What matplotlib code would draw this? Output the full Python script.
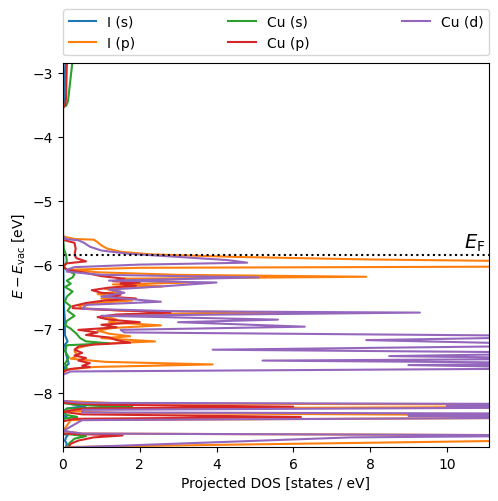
import matplotlib

matplotlib.use("Agg")
import matplotlib.pyplot as plt

# Fermi level and window
e_fermi = -5.85
x_max = 11.1

# I (s)
i_s_energy = [-2.70, -2.86, -3.0, -3.5, -3.56, -5.6, -6.1, -6.6, -6.9, -7.1, -7.2,
              -7.25, -7.4, -7.55, -7.6, -7.66, -8.16, -8.21, -8.25, -8.3, -8.35,
              -8.38, -8.42, -8.64, -8.67, -8.7, -8.75, -8.8, -8.9]
i_s_dos = [0.06, 0.06, 0.05, 0.04, 0.0, 0.0, 0.01, 0.02, 0.05, 0.05, 0.12,
           0.05, 0.08, 0.15, 0.05, 0.0, 0.0, 0.58, 0.1, 0.0, 0.0,
           0.1, 0.0, 0.0, 0.12, 0.08, 0.05, 0.1, 0.05]

# I (p)
i_p_energy = [-2.70, -5.56, -5.60, -5.61, -5.65, -5.70, -5.75, -5.80, -5.84, -5.88,
              -5.92, -5.96, -6.00, -6.02, -6.05, -6.08, -6.12, -6.16, -6.19, -6.22,
              -6.25, -6.28, -6.31, -6.34, -6.38, -6.42, -6.46, -6.50, -6.53, -6.56,
              -6.60, -6.64, -6.68, -6.72, -6.75, -6.78, -6.82, -6.86, -6.90, -6.95,
              -6.99, -7.03, -7.08, -7.12, -7.15, -7.20, -7.24, -7.30, -7.36, -7.42,
              -7.47, -7.52, -7.56, -7.60, -7.64, -7.70, -8.13, -8.17, -8.19, -8.22,
              -8.25, -8.29, -8.32, -8.36, -8.39, -8.43, -8.60, -8.64, -8.67, -8.72,
              -8.75, -8.85, -8.90]
i_p_dos = [0.0, 0.0, 0.3, 0.8, 0.9, 1.0, 1.15, 1.5, 2.3, 4.5,
           8.0, 14.0, 25.0, 18.0, 2.0, 0.2, 0.9, 3.0, 7.9, 1.6,
           2.0, 3.4, 1.3, 2.6, 1.1, 1.5, 0.9, 1.3, 1.0, 1.8,
           0.9, 0.4, 0.5, 1.5, 6.0, 1.8, 1.1, 1.4, 1.2, 2.55,
           1.3, 0.9, 1.2, 1.75, 1.0, 2.4, 0.8, 0.4, 0.3, 0.4,
           0.2, 1.1, 3.9, 0.8, 0.1, 0.0, 0.0, 1.5, 14.0, 14.0,
           0.8, 0.2, 1.5, 14.0, 14.0, 0.2, 0.0, 0.5, 14.0, 14.0,
           12.0, 0.1, 0.05]

# Cu (s)
cu_s_energy = [-2.70, -2.86, -3.45, -3.52, -3.54, -5.50, -5.75, -5.85, -5.95, -6.05,
               -6.10, -6.15, -6.20, -6.25, -6.30, -6.35, -6.42, -6.50, -6.58, -6.65,
               -6.72, -6.80, -6.88, -6.95, -7.00, -7.08, -7.15, -7.20, -7.23, -7.26,
               -7.35, -7.45, -7.55, -7.62, -7.66, -8.16, -8.19, -8.22, -8.25, -8.30,
               -8.35, -8.38, -8.41, -8.64, -8.68, -8.72, -8.80, -8.90]
cu_s_dos = [0.3, 0.24, 0.13, 0.08, 0.0, 0.0, 0.02, 0.08, 0.1, 0.02,
            0.15, 0.3, 0.25, 0.1, 0.2, 0.05, 0.25, 0.1, 0.05, 0.2,
            0.12, 0.3, 0.1, 0.06, 0.2, 0.35, 0.45, 0.6, 1.2, 0.1,
            0.05, 0.15, 0.05, 0.1, 0.0, 0.0, 0.3, 1.8, 0.1, 0.0,
            0.1, 0.37, 0.0, 0.0, 0.6, 0.3, 0.15, 0.1]

# Cu (p)
cu_p_energy = [-2.70, -2.86, -3.40, -3.50, -3.55, -5.55, -5.62, -5.66, -5.75, -5.85,
               -5.90, -5.95, -5.98, -6.02, -6.08, -6.12, -6.18, -6.22, -6.26, -6.28,
               -6.30, -6.33, -6.36, -6.40, -6.44, -6.47, -6.50, -6.53, -6.56, -6.60,
               -6.65, -6.68, -6.70, -6.73, -6.75, -6.78, -6.82, -6.86, -6.90, -6.94,
               -6.98, -7.02, -7.06, -7.10, -7.14, -7.18, -7.22, -7.25, -7.28, -7.33,
               -7.38, -7.42, -7.46, -7.50, -7.54, -7.58, -7.60, -7.63, -7.67, -8.16,
               -8.19, -8.22, -8.25, -8.30, -8.34, -8.38, -8.41, -8.45, -8.64, -8.67,
               -8.70, -8.75, -8.80, -8.90]
cu_p_dos = [0.12, 0.1, 0.08, 0.06, 0.0, 0.0, 0.05, 0.3, 0.33, 0.3,
            0.35, 0.6, 0.1, 0.0, 0.1, 0.5, 1.0, 1.6, 1.3, 2.0,
            1.5, 1.9, 1.2, 0.75, 1.0, 1.5, 1.2, 1.9, 1.1, 0.6,
            0.25, 0.25, 0.8, 2.2, 2.8, 1.4, 0.9, 1.2, 2.0, 1.0,
            1.4, 0.4, 0.9, 0.6, 1.2, 1.4, 1.75, 0.8, 0.4, 0.3,
            0.5, 0.3, 0.6, 0.4, 0.7, 0.5, 0.7, 0.2, 0.0, 0.0,
            1.0, 6.0, 0.5, 0.0, 0.5, 6.2, 0.3, 0.0, 0.0, 1.55,
            0.8, 0.4, 0.2, 0.1]

# Cu (d)
cu_d_energy = [-2.70, -5.55, -5.60, -5.62, -5.66, -5.72, -5.78, -5.83, -5.88, -5.93,
               -5.97, -6.00, -6.04, -6.08, -6.11, -6.16, -6.20, -6.25, -6.28, -6.34,
               -6.39, -6.44, -6.50, -6.58, -6.63, -6.69, -6.73, -6.75, -6.80, -6.86,
               -6.90, -6.97, -7.02, -7.06, -7.12, -7.18, -7.26, -7.33, -7.38, -7.43,
               -7.47, -7.50, -7.54, -7.57, -7.62, -7.67, -7.72, -8.13, -8.16, -8.18,
               -8.21, -8.23, -8.27, -8.31, -8.33, -8.36, -8.39, -8.43, -8.60, -8.64,
               -8.67, -8.70, -8.86, -8.90]
cu_d_dos = [0.0, 0.0, 0.05, 0.4, 0.55, 0.7, 1.0, 1.7, 3.0, 4.3,
            4.8, 2.0, 0.3, 0.1, 0.1, 1.0, 5.1, 1.2, 4.0, 2.6,
            1.2, 1.6, 1.0, 2.55, 0.6, 0.5, 3.0, 9.3, 1.0, 5.6,
            3.0, 6.3, 1.5, 1.6, 14.0, 7.9, 14.0, 3.9, 14.0, 8.5,
            14.0, 5.2, 14.0, 9.0, 14.0, 0.2, 0.0, 0.0, 0.5, 14.0,
            10.0, 14.0, 0.5, 0.5, 14.0, 9.0, 14.0, 0.5, 0.0, 0.5,
            14.0, 7.5, 0.1, 0.0]

series = [
    ("I (s)", i_s_dos, i_s_energy),
    ("I (p)", i_p_dos, i_p_energy),
    ("Cu (s)", cu_s_dos, cu_s_energy),
    ("Cu (p)", cu_p_dos, cu_p_energy),
    ("Cu (d)", cu_d_dos, cu_d_energy),
]

fig = plt.figure(figsize=(4.98, 5.02), dpi=100)
ax = fig.add_axes([0.1265, 0.1076, 0.8554, 0.7649])

for label, dos, energy in series:
    ax.plot(dos, energy, label=label)

ax.axhline(e_fermi, color="k", linestyle=":", linewidth=1.5)
ax.text(x_max - 0.1, e_fermi + 0.03, r"$E_{\mathrm{F}}$", ha="right", va="bottom",
        fontsize=14)

ax.set_xlim(0, x_max)
ax.set_ylim(e_fermi - 3, e_fermi + 3)
ax.set_xlabel("Projected DOS [states / eV]")
ax.set_ylabel(r"$E - E_{\mathrm{vac}}$ [eV]")
ax.legend(ncol=3, loc="lower left", bbox_to_anchor=(0, 1.02, 1, 0.1),
          mode="expand", borderaxespad=0)

fig.savefig("out.png", dpi=100)
